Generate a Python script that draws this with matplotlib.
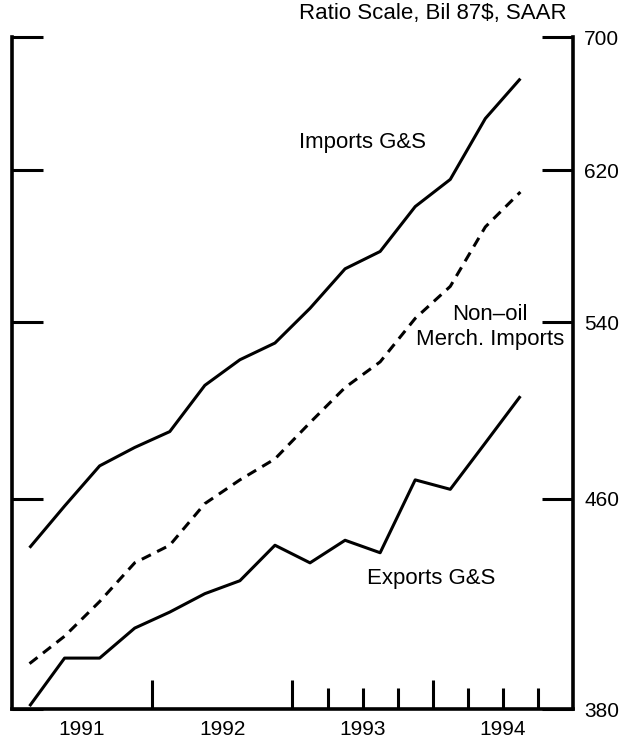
import matplotlib
matplotlib.use('Agg')
import matplotlib.pyplot as plt
from matplotlib.ticker import FixedLocator, NullFormatter, NullLocator
import numpy as np

plt.rcParams['font.family'] = ['Liberation Sans', 'DejaVu Sans']

# quarterly, 1991Q1 .. 1994Q3, billions of 1987 dollars, SAAR
quarters = np.arange(15)
imports_gs = [440, 457, 474, 482, 489, 510, 522, 530, 547, 567, 576, 600, 615, 650, 674]
nonoil_merch = [396, 406, 419, 434, 441, 458, 468, 477, 493, 509, 521, 542, 558, 589, 608]
exports_gs = [381, 398, 398, 409, 415, 422, 427, 441, 434, 443, 438, 468, 464, 484, 505]

years = [1991, 1992, 1993, 1994]
y_ticks = [380, 460, 540, 620, 700]

t = 1991.125 + 0.25 * quarters

fig = plt.figure(figsize=(6.41, 7.49), dpi=100)
ax = fig.add_axes([0.0187, 0.0534, 0.8752, 0.8972])

ax.plot(t, imports_gs, color='black', lw=2.2, solid_capstyle='butt')
ax.plot(t, nonoil_merch, color='black', lw=2.2, linestyle=(0, (3.3, 2.3)))
ax.plot(t, exports_gs, color='black', lw=2.2, solid_capstyle='butt')

ax.set_yscale('log')
ax.set_ylim(380, 700)
ax.set_xlim(1991, 1995)

ax.yaxis.set_major_locator(FixedLocator(y_ticks))
ax.yaxis.set_minor_locator(NullLocator())
ax.yaxis.set_minor_formatter(NullFormatter())
ax.set_yticklabels([str(v) for v in y_ticks])
ax.tick_params(axis='y', which='major', left=True, right=True, labelleft=False,
               labelright=True, direction='in', length=22, width=2.2,
               pad=8, labelsize=15)

# year boundaries (long) and quarter marks (short)
ax.xaxis.set_major_locator(FixedLocator([1992, 1993, 1994]))
ax.xaxis.set_minor_locator(FixedLocator([1993.25, 1993.5, 1993.75,
                                         1994.25, 1994.5, 1994.75]))
ax.tick_params(axis='x', which='major', direction='in', length=21, width=2.2,
               labelbottom=False)
ax.tick_params(axis='x', which='minor', direction='in', length=15, width=2.2)

sec = ax.secondary_xaxis('bottom')
sec.set_xticks([y + 0.5 for y in years])
sec.set_xticklabels([str(y) for y in years])
sec.tick_params(length=0, pad=8, labelsize=15)
sec.spines['bottom'].set_visible(False)

ax.spines['top'].set_visible(False)
for s in ['left', 'right', 'bottom']:
    ax.spines[s].set_linewidth(2.6)

fig.text(567 / 641, 1 - 14 / 749, 'Ratio Scale, Bil 87$, SAAR', ha='right',
         va='center', fontsize=16)

ax.text(1993.50, 636, 'Imports G&S', fontsize=16, ha='center', va='center')
ax.text(1994.41, 538, 'Non\u2013oil\nMerch. Imports', fontsize=16, ha='center',
        va='center', linespacing=1.25)
ax.text(1993.99, 428, 'Exports G&S', fontsize=16, ha='center', va='center')

fig.savefig('out.png', dpi=100)
